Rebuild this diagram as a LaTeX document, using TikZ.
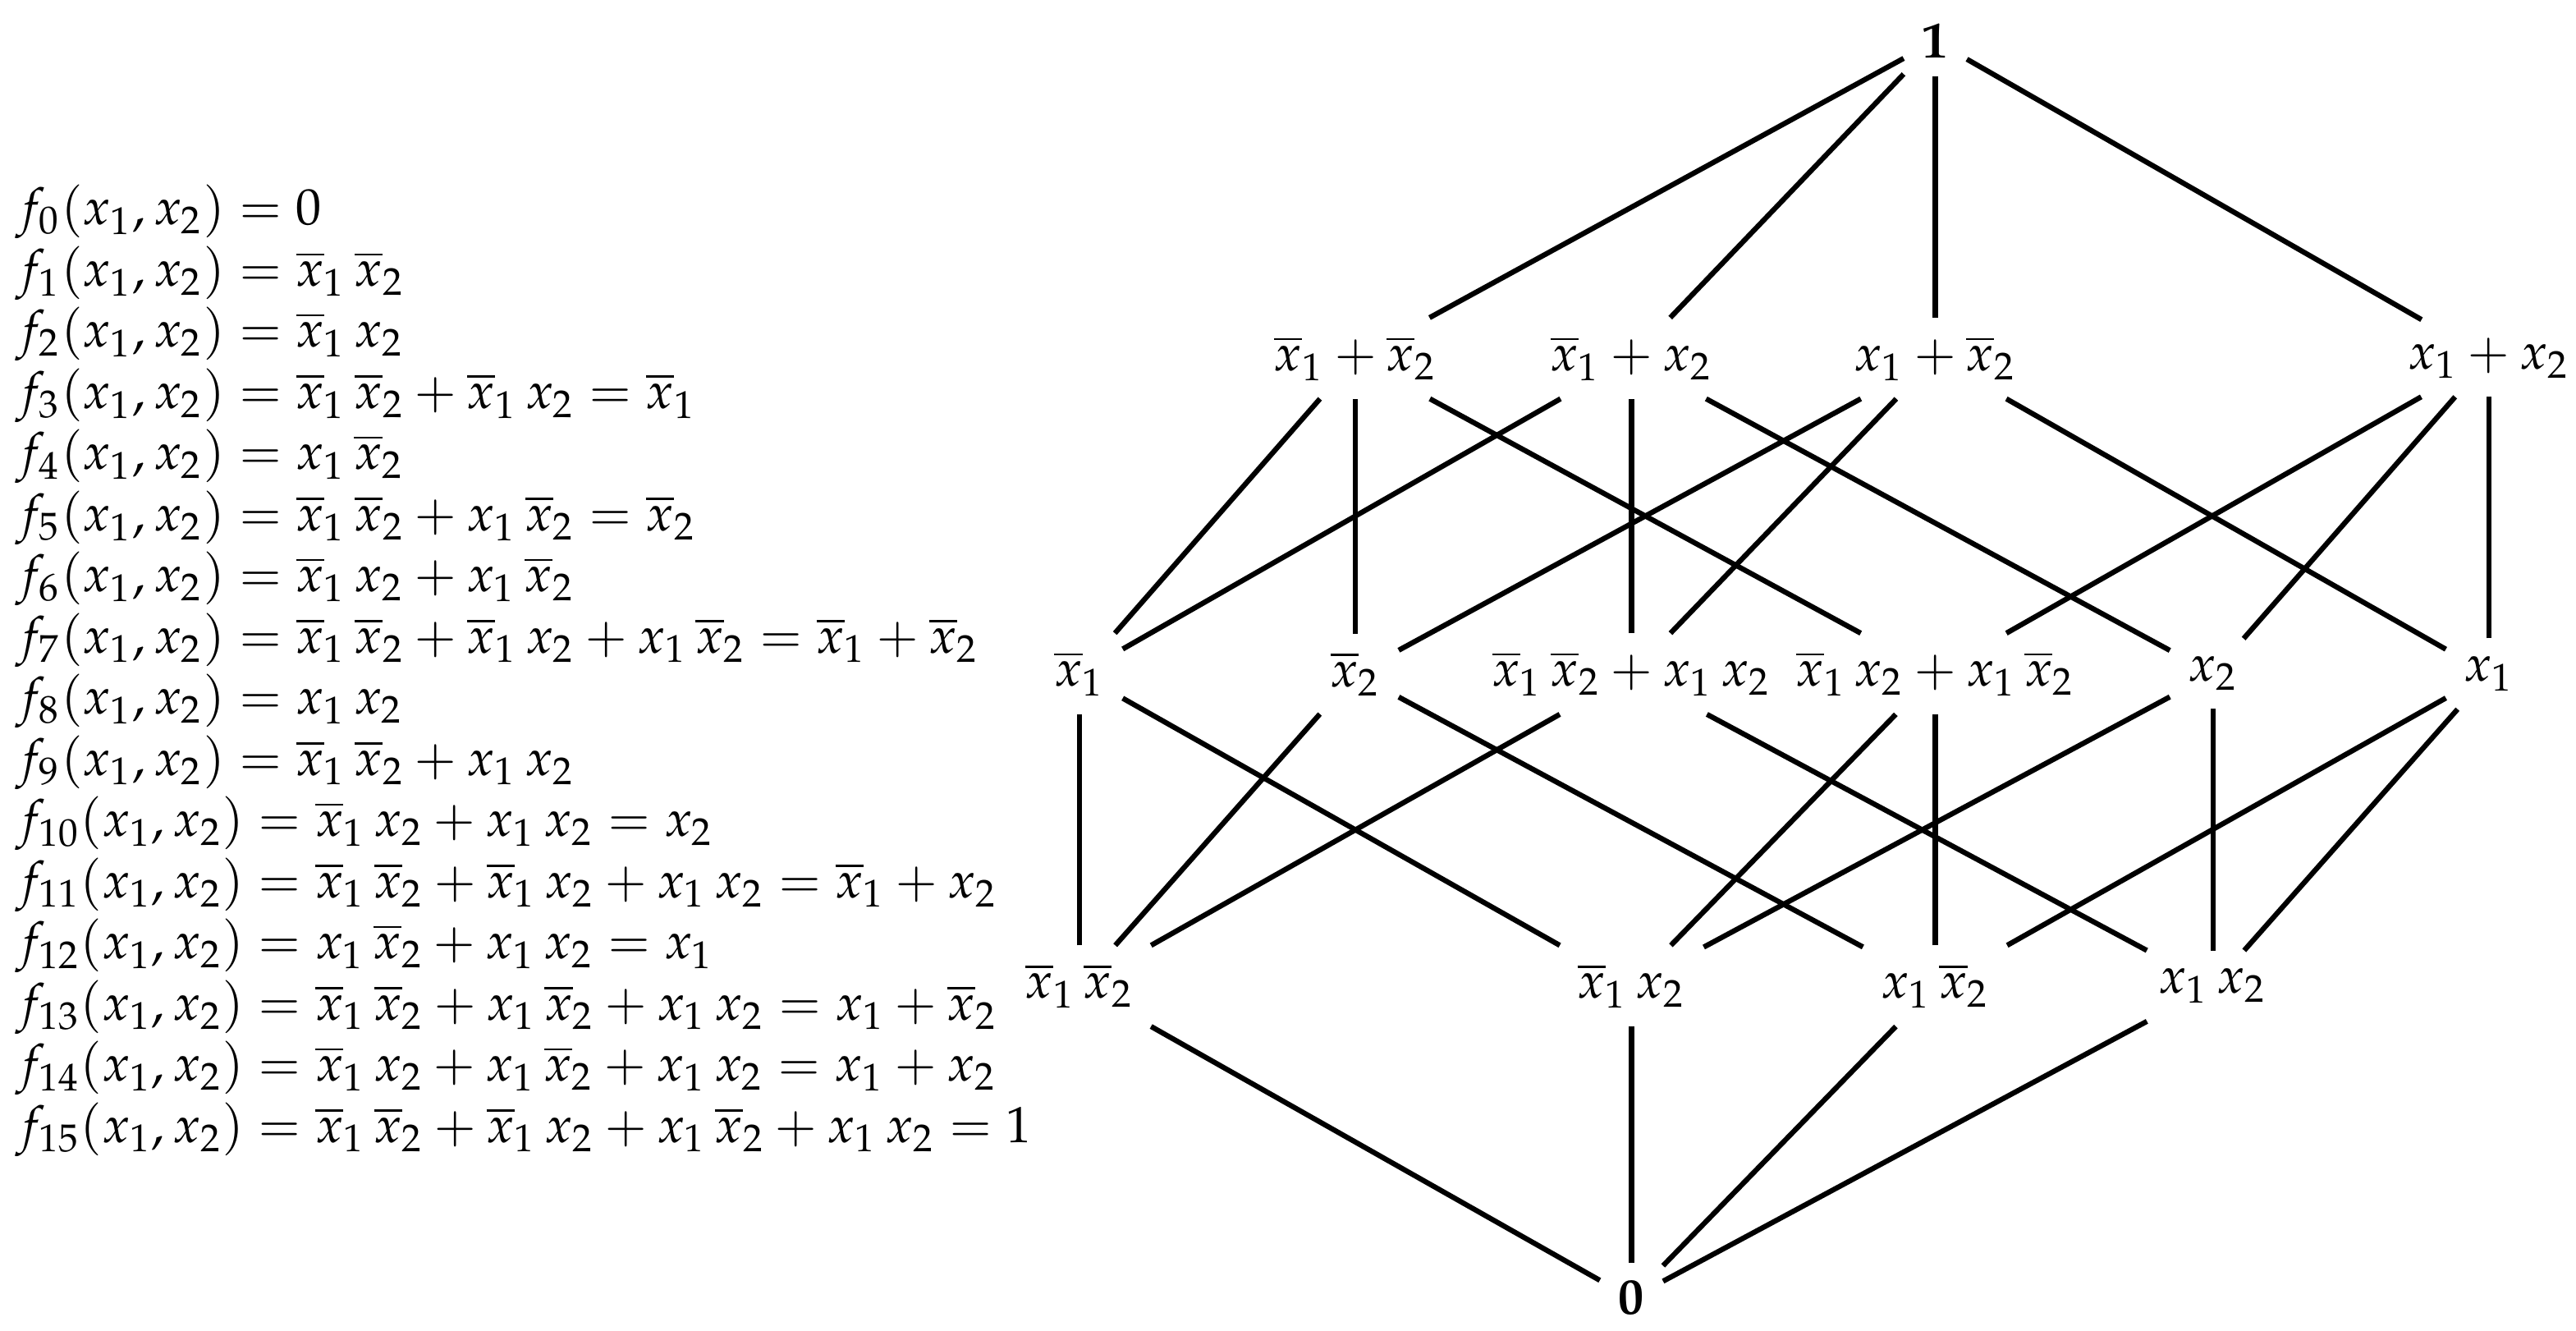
\documentclass[tikz,border=0pt]{standalone}
\usepackage{mathpazo}
\usepackage{tikz}
\usetikzlibrary{positioning}
\newcommand{\nx}[1]{\overline{x}_{#1}}
\tikzset{
  elem/.style={inner sep=3.33pt},
  link/.style={draw=black,line width=1pt},
}

\begin{document}
\begin{tikzpicture}[font=\fontsize{9.85}{11.82}\selectfont]
  \useasboundingbox (0,0) rectangle (17.5,-9.035);
  % function list
  \node [anchor=north west, align=left, inner sep=0pt] (funcs) at (0.1,-1.25) {%
    $f_{0}(x_1,x_2) = 0$\\
    $f_{1}(x_1,x_2) = \nx1\,\nx2$\\
    $f_{2}(x_1,x_2) = \nx1\,x_2$\\
    $f_{3}(x_1,x_2) = \nx1\,\nx2 + \nx1\,x_2 = \nx1$\\
    $f_{4}(x_1,x_2) = x_1\,\nx2$\\
    $f_{5}(x_1,x_2) = \nx1\,\nx2 + x_1\,\nx2 = \nx2$\\
    $f_{6}(x_1,x_2) = \nx1\,x_2 + x_1\,\nx2$\\
    $f_{7}(x_1,x_2) = \nx1\,\nx2 + \nx1\,x_2 + x_1\,\nx2 = \nx1 + \nx2$\\
    $f_{8}(x_1,x_2) = x_1\,x_2$\\
    $f_{9}(x_1,x_2) = \nx1\,\nx2 + x_1\,x_2$\\
    $f_{10}(x_1,x_2) = \nx1\,x_2 + x_1\,x_2 = x_2$\\
    $f_{11}(x_1,x_2) = \nx1\,\nx2 + \nx1\,x_2 + x_1\,x_2 = \nx1 + x_2$\\
    $f_{12}(x_1,x_2) = x_1\,\nx2 + x_1\,x_2 = x_1$\\
    $f_{13}(x_1,x_2) = \nx1\,\nx2 + x_1\,\nx2 + x_1\,x_2 = x_1 + \nx2$\\
    $f_{14}(x_1,x_2) = \nx1\,x_2 + x_1\,\nx2 + x_1\,x_2 = x_1 + x_2$\\
    $f_{15}(x_1,x_2) = \nx1\,\nx2 + \nx1\,x_2 + x_1\,\nx2 + x_1\,x_2 = 1$};

  % lattice
  \node [elem] (ONE) at (13.147,-0.279) {$\mathbf{1}$};
  \node [elem] (ABC) at (9.208,-2.433) {$\nx1 + \nx2$};
  \node [elem] (ABD) at (11.083,-2.433) {$\nx1 + x_2$};
  \node [elem] (ACD) at (13.147,-2.433) {$x_1 + \nx2$};
  \node [elem] (BCD) at (16.908,-2.433) {$x_1 + x_2$};
  \node [elem] (AB) at (7.333,-4.576) {$\nx1$};
  \node [elem] (AC) at (9.208,-4.576) {$\nx2$};
  \node [elem] (AD) at (11.083,-4.576) {$\nx1\,\nx2 + x_1\,x_2$};
  \node [elem] (BC) at (13.147,-4.576) {$\nx1\,x_2 + x_1\,\nx2$};
  \node [elem] (BD) at (15.033,-4.576) {$x_2$};
  \node [elem] (CD) at (16.908,-4.576) {$x_1$};
  \node [elem] (A) at (7.333,-6.696) {$\nx1\,\nx2$};
  \node [elem] (B) at (11.083,-6.696) {$\nx1\,x_2$};
  \node [elem] (C) at (13.147,-6.696) {$x_1\,\nx2$};
  \node [elem] (D) at (15.033,-6.696) {$x_1\,x_2$};
  \node [elem] (ZERO) at (11.083,-8.817) {$\mathbf{0}$};

  \foreach \t in {ABC,ABD,ACD,BCD}
    \draw [link] (ONE) -- (\t);
  \foreach \a/\b in {AB/ABC,AB/ABD,AC/ABC,AC/ACD,AD/ABD,AD/ACD,
                     BC/ABC,BC/BCD,BD/ABD,BD/BCD,CD/ACD,CD/BCD}
    \draw [link] (\a) -- (\b);
  \foreach \a/\b in {A/AB,A/AC,A/AD,B/AB,B/BC,B/BD,
                     C/AC,C/BC,C/CD,D/AD,D/BD,D/CD}
    \draw [link] (\a) -- (\b);
  \foreach \t in {A,B,C,D}
    \draw [link] (ZERO) -- (\t);
\end{tikzpicture}
\end{document}
